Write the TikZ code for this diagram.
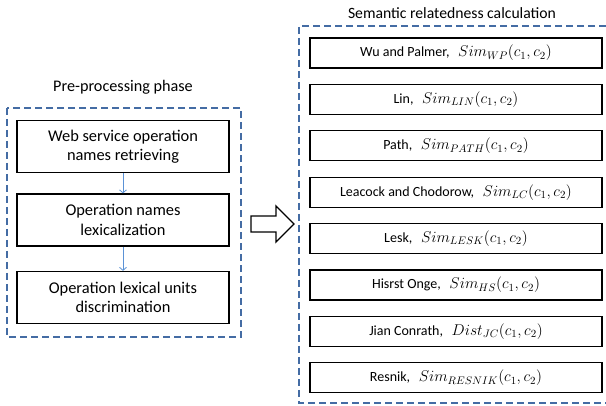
\RequirePackage{fix-cm}
\documentclass[tikz,border=0pt]{standalone}
\usepackage{fontspec}
\setmainfont{Carlito}
\usetikzlibrary{arrows.meta}
\definecolor{dashblue}{RGB}{68,108,164}
\definecolor{flowblue}{RGB}{91,146,214}
\tikzset{
  stage/.style={draw=black, line width=1.3pt, minimum width=212pt, minimum height=52pt,
    align=center, font=\fontsize{16.4}{19.5}\selectfont, inner sep=0pt},
  measure/.style={draw=black, line width=1.3pt, minimum width=292pt, minimum height=30pt,
    align=center, font=\fontsize{14}{16.5}\selectfont, inner sep=0pt},
  group/.style={draw=dashblue, line width=1.5pt, dash pattern=on 7pt off 4pt},
  flow/.style={draw=flowblue, line width=0.8pt, -{Straight Barb[length=3pt,width=7pt]}},
  heading/.style={font=\fontsize{16.2}{19}\selectfont, inner sep=0pt}
}
% formula set slightly larger than the surrounding label text
\newcommand{\formula}[1]{{\fontsize{15.6}{18}\selectfont$#1$}}
\newcommand{\simf}[1]{\formula{Sim_{#1}(c_1,c_2)}}
\begin{document}
\begin{tikzpicture}[x=1pt,y=-1pt]
\useasboundingbox (0,0) rectangle (606,406);
\fill[white] (0,0) rectangle (606,406);

% pre-processing stages
\node[heading] (pretitle) at (123,87) {Pre-processing phase};
\draw[group] (7,108) rectangle (241,337);
\node[stage] (retrieve) at (123,146.5) {Web service operation\\names retrieving};
\node[stage] (lexical) at (123,220) {Operation names\\lexicalization};
\node[stage] (discrim) at (123,297.5) {Operation lexical units\\discrimination};
\draw[flow] (retrieve.south) -- (lexical.north);
\draw[flow] (lexical.south) -- (discrim.north);

% hollow block arrow between the two phases
\draw[line width=1.3pt, line join=miter, fill=white]
  (251,216) -- (276,216) -- (276,206) -- (294,224) -- (276,242) -- (276,232) -- (251,232) -- cycle;

% semantic relatedness measures
\node[heading, font=\fontsize{15.7}{18}\selectfont] (semtitle) at (452,13) {Semantic relatedness calculation};
\draw[group] (606,26) -- (299,26) -- (299,403) -- (606,403);
\node[measure] (wp) at (456,53) {Wu and Palmer,~\, \simf{WP}};
\node[measure] (lin) at (456,99.4) {Lin,~\, \simf{LIN}};
\node[measure] (path) at (456,145.8) {Path,~\, \simf{PATH}};
\node[measure] (lc) at (456,192.2) {Leacock and Chodorow,~\, \simf{LC}};
\node[measure] (lesk) at (456,238.6) {Lesk,~\, \simf{LESK}};
\node[measure] (hs) at (456,285) {Hisrst Onge,~\, \simf{HS}};
\node[measure] (jc) at (456,331.4) {Jian Conrath,~\, \formula{Dist_{JC}(c_1,c_2)}};
\node[measure] (resnik) at (456,377.8) {Resnik,~\, \simf{RESNIK}};
\end{tikzpicture}
\end{document}
